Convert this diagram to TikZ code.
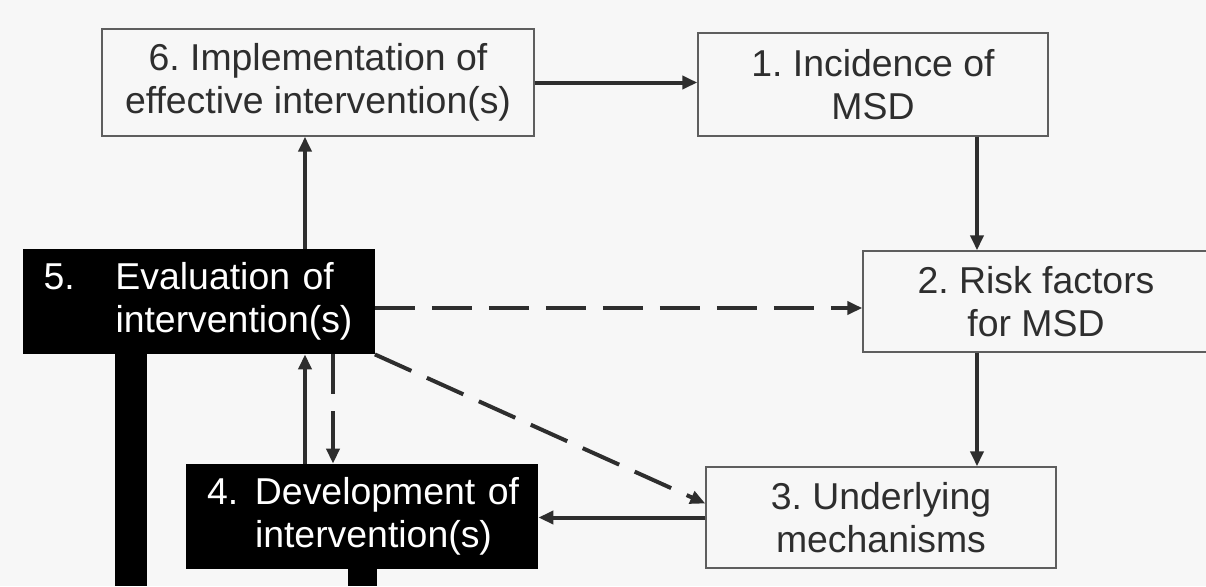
\documentclass[tikz,border=0pt]{standalone}
\usepackage{fontspec}
\setmainfont{Liberation Sans}
\usetikzlibrary{arrows.meta}
\definecolor{ink}{HTML}{2E2E2E}
\definecolor{rule}{HTML}{5E5E5E}
\frenchspacing
\begin{document}
\begin{tikzpicture}[x=0.5pt,y=-0.5pt,
    box/.style={draw=rule,line width=0.7pt,text=ink,align=center,inner sep=0pt,font=\fontsize{18.7}{21.5}\selectfont},
    blackbox/.style={fill=black,text=white,align=left,inner xsep=10.5pt,inner ysep=0pt,text width=155pt,minimum height=52.5pt,font=\fontsize{18.7}{21.5}\selectfont},
    arr/.style={draw=ink,line width=2pt,-{Triangle[length=7.5pt,width=6.5pt]}},
    darr/.style={arr,dash pattern=on 20pt off 8.5pt}]
  \useasboundingbox[fill=white!97!black] (0,0) rectangle (1206,586);
  % boxes
  \node[box,minimum width=216pt,minimum height=53.5pt] (impl) at (318,82.5) {6. Implementation of\\effective intervention(s)};
  \node[box,minimum width=175pt,minimum height=51.5pt] (inc) at (873,84.5) {1. Incidence of\\MSD};
  \node[box,minimum width=173pt,minimum height=50.5pt] (risk) at (1036,301.5) {2. Risk factors\\for MSD};
  \node[box,minimum width=175pt,minimum height=50.5pt] (mech) at (881,517.5) {3. Underlying\\mechanisms};
  \node[blackbox] (eval) at (198.5,301.5) {\makebox[36pt][l]{5.}Evaluation~of\\\hspace*{36pt}intervention(s)};
  \node[blackbox] (dev) at (362,516.5) {\makebox[24pt][l]{4.}Development~of\\\hspace*{24pt}intervention(s)};
  \fill[black] (115,354) rectangle (147,586);
  \fill[black] (348,569) rectangle (377,586);
  % connectors
  \coordinate (cl) at (305,0);
  \coordinate (cr) at (333,0);
  \coordinate (cx) at (977,0);
  \coordinate (dy) at (0,308);
  \draw[arr] (impl.east) -- (impl.east -| inc.west);
  \draw[arr] (inc.south -| cx) -- (risk.north -| cx);
  \draw[arr] (risk.south -| cx) -- (mech.north -| cx);
  \draw[arr] (mech.west) -- (mech.west -| dev.east);
  \draw[arr] (eval.north -| cl) -- (impl.south -| cl);
  \draw[arr] (dev.north -| cl) -- (eval.south -| cl);
  \draw[darr] (eval.south -| cr) -- (dev.north -| cr);
  \draw[darr] (eval.east |- dy) -- (risk.west |- dy);
  \draw[darr] (eval.south east) -- ([yshift=7pt]mech.west);
\end{tikzpicture}
\end{document}
